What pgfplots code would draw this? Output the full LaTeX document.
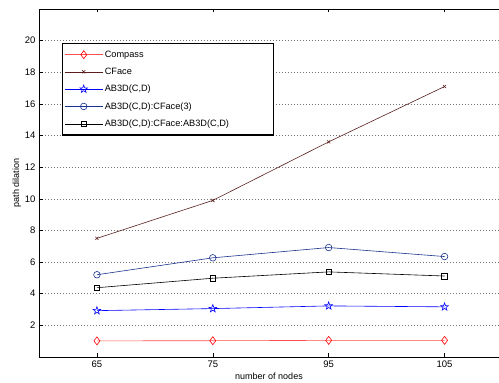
\documentclass[border=0pt]{standalone}
\usepackage{fontspec}
\setmainfont{Liberation Sans}
\usepackage{pgfplots}
\pgfplotsset{compat=1.18}
\definecolor{cface}{rgb}{0.35,0.12,0.12}
\definecolor{navy}{rgb}{0.1,0.2,0.55}
\pgfdeclareplotmark{pentagram}{%
  \pgfpathmoveto{\pgfqpointpolar{90}{\pgfplotmarksize}}%
  \pgfpathlineto{\pgfqpointpolar{126}{0.4\pgfplotmarksize}}%
  \pgfpathlineto{\pgfqpointpolar{162}{\pgfplotmarksize}}%
  \pgfpathlineto{\pgfqpointpolar{198}{0.4\pgfplotmarksize}}%
  \pgfpathlineto{\pgfqpointpolar{234}{\pgfplotmarksize}}%
  \pgfpathlineto{\pgfqpointpolar{270}{0.4\pgfplotmarksize}}%
  \pgfpathlineto{\pgfqpointpolar{306}{\pgfplotmarksize}}%
  \pgfpathlineto{\pgfqpointpolar{342}{0.4\pgfplotmarksize}}%
  \pgfpathlineto{\pgfqpointpolar{18}{\pgfplotmarksize}}%
  \pgfpathlineto{\pgfqpointpolar{54}{0.4\pgfplotmarksize}}%
  \pgfpathclose\pgfusepathqstroke}
\begin{document}
\begin{tikzpicture}[x=1pt,y=1pt]
\path[use as bounding box] (0,0) rectangle (499,383);
\begin{axis}[
  at={(39pt,26pt)}, anchor=south west,
  scale only axis, width=460pt, height=348pt,
  xmin=0.5, xmax=4.47, ymin=0, ymax=22,
  xtick={1,2,3,4}, xticklabels={65,75,95,105},
  ytick={2,4,...,20},
  ymajorgrids, grid style={black!55, dash pattern=on 0.6pt off 2.4pt, line width=0.5pt},
  tick align=inside, major tick length=3.5pt,
  xtick pos=both, ytick pos=left,
  axis line style={line width=0.8pt},
  tick style={line width=0.5pt, black},
  /pgf/number format/assume math mode=true,
  ticklabel style={font=\fontsize{9.5}{11}\selectfont},
  xlabel={number of nodes}, ylabel={path dilation},
  label style={font=\fontsize{9}{10}\selectfont},
  xlabel style={yshift=1pt},
  ylabel style={yshift=-3pt},
  legend cell align=left,
  legend style={font=\fontsize{9.2}{10}\selectfont, at={(0.05,0.902)}, anchor=north west,
    draw=black, line width=1.3pt, row sep=5.2pt, inner xsep=2pt, inner ysep=5pt},
  legend image code/.code={
    \draw[mark repeat=2,mark phase=2,#1] plot coordinates {(0cm,0cm) (0.66cm,0cm) (1.32cm,0cm)};},
  every axis plot/.append style={line width=0.6pt, mark options={solid, line width=0.6pt}},
]
\addplot[red!70, mark=diamond, mark size=4pt, mark options={draw=red, fill=white}] coordinates {(1,1.02) (2,1.03) (3,1.05) (4,1.05)};
\addlegendentry{Compass}
\addplot[cface, mark=x, mark size=2.2pt] coordinates {(1,7.5) (2,9.9) (3,13.6) (4,17.1)};
\addlegendentry{CFace}
\addplot[blue, mark=pentagram, mark size=4pt, mark options={draw=blue}] coordinates {(1,2.93) (2,3.06) (3,3.23) (4,3.17)};
\addlegendentry{AB3D(C,D)}
\addplot[navy, mark=o, mark size=3.3pt, mark options={fill=white}] coordinates {(1,5.2) (2,6.27) (3,6.92) (4,6.35)};
\addlegendentry{AB3D(C,D):CFace(3)}
\addplot[black, mark=square, mark size=2.8pt, mark options={fill=white}] coordinates {(1,4.38) (2,4.98) (3,5.38) (4,5.12)};
\addlegendentry{\makebox[165pt][l]{AB3D(C,D):CFace:AB3D(C,D)}}
\end{axis}
\end{tikzpicture}
\end{document}
